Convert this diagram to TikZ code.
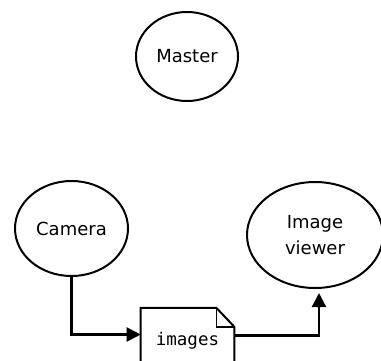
\documentclass[tikz,border=0pt]{standalone}
\usepackage{fontspec}
\setmainfont{DejaVu Sans}
\setmonofont{DejaVu Sans Mono}
\usetikzlibrary{shapes.geometric,arrows.meta}

\tikzset{
  proc/.style={ellipse, draw, line width=2pt, inner sep=0pt,
    align=center, font=\fontsize{18}{26}\selectfont},
  datafile/.style={rectangle, inner xsep=15pt, inner ysep=24pt,
    font=\ttfamily\fontsize{17.5}{20}\selectfont},
  flow/.style={line width=2.2pt, -{Triangle[length=14pt,width=14pt]}}
}

\begin{document}
\begin{tikzpicture}[x=1pt,y=-1pt]
  \clip (0,0) rectangle (381,360);
  % processes
  \node[proc, minimum width=102pt, minimum height=89pt] (master) at (187,56.5) {Master};
  \node[proc, minimum width=113pt, minimum height=95pt] (camera) at (71.5,228.5) {Camera};
  \node[proc, minimum width=136pt, minimum height=106pt] (viewer) at (315,235) {Image\\viewer};
  % data file with a folded corner
  \node[datafile] (images) at (187.5,340.5) {images};
  \draw[line width=2pt, line join=miter]
    (images.south west) -- (images.north west)
    -- ([xshift=-18pt]images.north east) -- ([yshift=-19pt]images.north east)
    -- (images.south east);
  \draw[line width=1.5pt] ([xshift=-18pt]images.north east) |- ([yshift=-19pt]images.north east);
  % data flow
  \draw[flow] (camera.south) |- ([yshift=6pt]images.west);
  \draw[flow, shorten >=4pt] ([yshift=5pt]images.east) -| ([xshift=4pt]viewer.south);
\end{tikzpicture}
\end{document}
